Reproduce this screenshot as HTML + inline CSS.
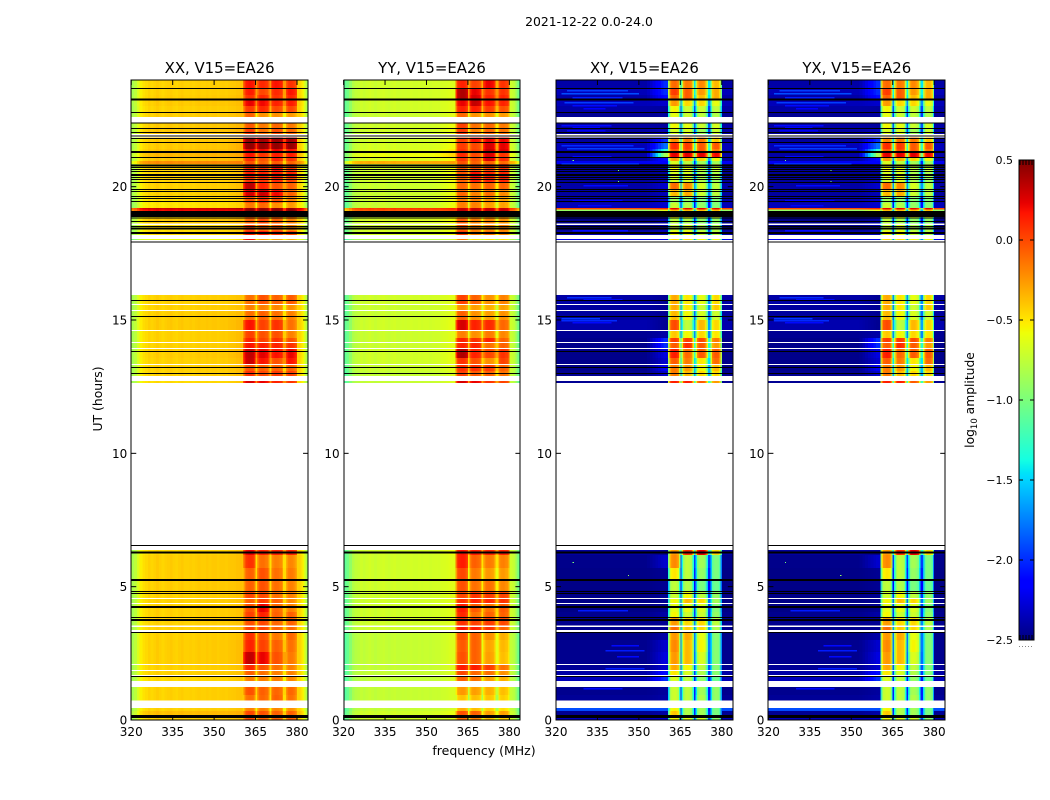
<!DOCTYPE html>
<html lang="en">
<head>
<meta charset="utf-8">
<title>2021-12-22 0.0-24.0</title>
<style>
html,body{margin:0;padding:0;background:#fff;}
svg{display:block;}
text{font-family:"DejaVu Sans","Liberation Sans",sans-serif;fill:#000;}
</style>
</head>
<body>
<svg id="fig" xmlns="http://www.w3.org/2000/svg" width="1050" height="800" viewBox="0 0 1050 800">
<rect x="0" y="0" width="1050" height="800" fill="#fff"/>
<text x="589" y="26" font-size="12.4" text-anchor="middle">2021-12-22 0.0-24.0</text>
<text x="0" y="0" font-size="12.4" text-anchor="middle" transform="translate(102,399) rotate(-90)">UT (hours)</text>
<text x="484" y="755" font-size="12.5" text-anchor="middle">frequency (MHz)</text>
<text x="0" y="0" font-size="12.3" text-anchor="middle" transform="translate(974,400) rotate(-90)">log<tspan font-size="8.5" dy="3">10</tspan><tspan dy="-3"> amplitude</tspan></text>
<g id="panels"></g>
<g id="colorbar"></g>
</svg>
<script>
const panelTitles = ["XX, V15=EA26", "YY, V15=EA26", "XY, V15=EA26", "YX, V15=EA26"];
const freqTicks = [320, 335, 350, 365, 380];
const utTicks = [0, 5, 10, 15, 20];
const colorbarTicks = [0.5, 0.0, -0.5, -1.0, -1.5, -2.0, -2.5];

const blockStart = [360.5, 365.5, 370.5, 376];
const blockEnd = [365, 370, 375, 380];
const rightBlend = [0, .1, .25, .4, .55, .7, .85, 1];

/* amplitude offset per channel, relative to the band level of its row */
const parallelShape = [
 -.4,-.33,-.22,-.1,-.05,-.03,0,-.02,0,.02,0,-.02,0,.01,.02,0,-.01,.01,.02,0,
 0,.01,0,.01,.02,.01,.01,.02,.01,.02,.02,.01,.02,.02,.01,.02,.02,.02,.03,.03,
 .02,
 -.25,-.06,0,.02,.03,.03,.02,0,-.08,
 0,
 -.15,-.02,.02,.03,.03,.02,0,-.02,-.1,
 0,
 -.15,-.02,.02,.03,.03,.02,0,-.02,-.1,
 0,0,
 -.1,0,.02,.03,.02,0,-.02,-.1,
 0,0,-.02,-.05,-.12,-.22,-.32,-.42
];
const crossShape = [
 0,0,0,0,0,0,0,0,0,0,0,0,0,0,0,0,0,0,0,0,
 0,0,0,0,0,0,0,0,0,0,0,0,0,0,0,0,0,0,0,0,
 0,
 -.75,-.2,0,.03,.05,.05,.03,-.05,-.55,
 0,
 -.55,-.1,.03,.05,.05,.03,0,-.1,-.55,
 0,
 -.55,-.1,.03,.05,.05,.03,0,-.1,-.5,
 0,0,
 -.5,-.05,.03,.05,.05,.03,-.1,-.7,
 0,0,0,0,0,0,0,0
];

/* UT extent of each observed time row (hours); anything not listed is flagged (white) */
const rowTop = [24,23.7,23.438,23.25,23.025,22.781,22.406,22.2,21.919,21.836,21.638,21.413,21.3,21.113,20.963,20.85,20.55,20.325,20.138,19.875,19.613,19.388,19.2,19.15,18.9,18.825,18.563,18.338,18.038,
 15.938,15.563,15.338,15,14.588,14.325,14.138,13.913,13.575,13.313,13.088,12.713,
 6.375,6.188,5.7,5.25,4.838,4.538,4.35,4.05,3.825,3.488,3.3,3,2.55,2.063,1.838,1.65,1.238,.938,.45,.338,.15];
const rowBottom = [23.7,23.438,23.25,23.025,22.781,22.613,22.2,21.975,21.874,21.638,21.413,21.3,21.113,20.963,20.85,20.55,20.325,20.138,19.875,19.613,19.388,19.2,19.15,18.9,18.825,18.626,18.338,18.188,17.993,
 15.6,15.375,15,14.625,14.325,14.175,13.95,13.575,13.35,13.088,12.9,12.638,
 6.188,5.7,5.25,4.838,4.575,4.388,4.05,3.825,3.544,3.375,3,2.55,2.1,1.875,1.688,1.463,.938,.731,.338,.15,0];

/* log10 amplitude per row: [background, near-block background, block1, block2, block3, block4] */
const xxLevels = [
[-.44,-.42,.15,.08,.15,.05],[-.44,-.42,.12,-.02,.08,.15],[-.43,-.4,.05,.08,.05,.1],[-.42,-.4,.2,.18,.1,.12],
[-.44,-.42,.02,.08,-.03,-.02],[-.43,-.4,-.1,-.25,-.25,-.28],[-.42,-.38,-.08,-.18,-.12,-.18],[-.41,-.37,.02,-.15,-.05,-.12],
[-.42,-.36,.05,.02,.05,.05],[-.42,-.36,.4,.38,.4,.38],[-.42,-.36,.42,.42,.42,.42],[-.4,-.36,.2,.18,.2,.15],
[-.36,-.32,.15,.05,.12,.12],[-.4,-.36,.08,-.05,.1,.05],[-.22,-.2,-.05,-.1,-.08,-.1],[-.44,-.4,.1,.05,.15,.05],
[-.44,-.4,.12,.1,.12,.1],[-.44,-.4,.05,.05,.08,0],[-.44,-.4,.32,.1,-.05,-.1],[-.44,-.4,.25,.28,.18,-.1],
[-.48,-.44,-.05,.05,-.05,-.2],[-.5,-.46,-.18,-.12,-.25,-.28],[.3,.35,.42,.42,.42,.42],[.2,.2,.45,.45,.45,.45],
[-.5,-.44,-.1,-.1,-.1,-.15],[-.42,-.38,-.12,-.02,-.1,-.2],[-.48,-.44,0,-.1,-.1,-.2],[-.47,-.43,.1,.12,.05,0],[-.6,-.5,.15,-.3,-.3,-.35],
[-.44,-.42,-.15,-.05,-.1,-.08],[-.44,-.42,-.2,-.2,-.22,-.25],[-.43,-.4,-.15,-.1,-.15,-.2],[-.42,-.38,.15,0,.05,-.15],
[-.44,-.4,0,-.05,-.05,-.2],[-.44,-.4,.1,0,.05,-.05],[-.44,-.4,.15,.12,.1,.05],[-.43,-.38,.3,.22,.15,.2],
[-.44,-.4,.28,.15,-.05,.15],[-.44,-.4,-.05,-.1,-.1,-.1],[-.44,-.4,.05,-.02,.02,0],[-.47,-.43,.25,.2,.1,.05],
[-.46,-.42,.2,.1,.1,.1],[-.43,-.41,.05,-.15,-.2,-.22],[-.43,-.41,-.1,-.05,-.15,-.18],[-.43,-.41,-.1,-.05,-.15,-.2],
[-.44,-.42,-.02,-.02,-.15,-.2],[-.44,-.42,-.1,.02,-.1,-.22],[-.44,-.42,-.05,.2,-.12,-.2],[-.44,-.42,0,.1,-.1,-.1],
[-.44,-.42,-.05,-.02,-.12,-.1],[-.44,-.42,0,0,-.1,-.12],[-.44,-.42,.05,-.05,-.18,-.12],[-.43,-.4,.1,0,-.1,-.15],
[-.43,-.4,.3,.2,-.05,-.18],[-.44,-.42,.08,-.05,-.15,-.2],[-.44,-.42,-.1,-.15,-.2,-.2],[-.46,-.43,-.2,-.2,-.2,-.22],
[-.44,-.42,-.05,-.1,-.12,-.12],[-.44,-.42,-.15,-.12,-.1,-.15],[-.44,-.42,-.2,-.2,-.22,-.25],[-.38,-.36,-.02,-.05,-.1,-.1],[-.44,-.4,-.02,-.1,-.1,-.1]
];
const yyLevels = [
[-.7,-.68,.1,0,.2,.05],[-.7,-.66,.35,.2,.05,.05],[-.7,-.66,.35,.25,.1,.1],[-.7,-.66,.2,.3,.15,.1],
[-.7,-.66,.1,.12,.02,-.05],[-.72,-.66,-.12,-.25,-.25,-.28],[-.7,-.62,0,-.15,-.12,-.18],[-.7,-.62,.02,-.2,-.12,-.15],
[-.7,-.62,0,-.1,-.05,-.1],[-.7,-.62,.02,.15,.2,.2],[-.68,-.6,.02,-.02,.25,.22],[-.66,-.55,.05,0,.3,.25],
[-.6,-.48,.08,-.02,.25,.05],[-.66,-.58,.05,-.05,.25,.08],[-.32,-.3,-.05,-.1,-.1,-.12],[-.7,-.6,-.08,-.05,0,.05],
[-.7,-.6,-.05,.15,.1,.1],[-.7,-.6,-.1,.1,.1,.1],[-.72,-.62,-.12,-.15,-.1,-.1],[-.72,-.62,-.12,-.2,-.15,-.22],
[-.72,-.62,-.2,-.2,-.25,-.3],[-.72,-.62,-.2,-.2,-.3,-.3],[.05,.1,.3,.3,.3,.3],[-.05,0,.3,.3,.3,.3],
[-.7,-.6,-.3,-.3,-.3,-.3],[-.68,-.6,-.1,-.2,-.22,-.25],[-.7,-.62,-.08,-.2,-.22,-.2],[-.68,-.6,.02,-.18,-.15,-.2],[-.8,-.7,-.2,-.5,-.5,-.5],
[-.7,-.66,0,-.1,-.25,-.2],[-.72,-.66,-.25,-.3,-.35,-.3],[-.72,-.66,-.1,-.25,-.3,-.25],[-.7,-.64,.25,.1,.08,-.12],
[-.72,-.66,-.2,-.25,-.18,-.22],[-.72,-.66,.1,.05,.1,-.1],[-.72,-.66,.1,.1,-.15,-.1],[-.7,-.64,.35,.1,-.02,.05],
[-.7,-.64,.05,-.05,-.25,0],[-.72,-.66,.05,.05,.02,-.1],[-.74,-.68,0,-.08,-.1,-.15],[-.74,-.68,.25,.2,.05,0],
[-.7,-.62,.15,.12,.1,.1],[-.7,-.66,.12,-.1,-.18,-.2],[-.7,-.66,-.02,-.18,-.28,-.28],[-.7,-.66,-.05,-.15,-.15,-.22],
[-.7,-.66,-.02,.05,.02,0],[-.7,-.66,.05,.1,.08,.05],[-.7,-.66,.12,-.08,-.15,-.08],[-.7,-.66,.08,-.15,-.1,-.1],
[-.7,-.66,.05,0,.02,-.02],[-.7,-.66,.15,.12,.05,-.1],[-.74,-.68,-.05,-.1,-.25,-.35],[-.74,-.68,-.08,-.1,-.32,-.38],
[-.74,-.68,-.05,-.1,-.3,-.4],[-.74,-.68,.12,.12,.02,-.15],[-.74,-.68,-.02,-.12,-.15,-.25],[-.76,-.7,-.1,-.15,-.3,-.35],
[-.74,-.7,-.28,-.3,-.35,-.4],[-.74,-.7,-.42,-.4,-.42,-.45],[-.74,-.7,-.35,-.4,-.45,-.5],[-.7,-.64,-.05,-.1,-.3,-.3],[-.7,-.66,-.15,-.2,-.4,-.45]
];
const xyLevels = [
[-2.4,-2,-.15,-.2,-.25,-.4],[-2.35,-2,0,-.1,-.3,-.35],[-2.4,-2.1,-.12,-.1,-.4,-.35],[-2.35,-2.3,-.3,-.5,-.5,-.65],
[-2.4,-2.42,-.6,-.75,-.75,-.8],[-2.45,-2.42,-.65,-.75,-.8,-.85],[-2.4,-2.42,-.6,-.65,-.75,-.7],[-2.4,-2.35,-.7,-.7,-.9,-.75],
[-2.42,-2.3,-.5,-.5,-.5,-.6],[-2.42,-2,-.25,-.2,-.2,-.45],[-2.35,-1.8,.05,0,-.1,-.1],[-2.35,-1.3,-.1,-.05,-.1,-.2],
[-2.4,-.85,.2,.2,.2,.15],[-2.42,-2.1,-.3,-.4,-.5,-.6],[-2.2,-2.15,-.7,-.8,-.9,-.9],[-2.45,-2.42,-.6,-.65,-.8,-.75],
[-2.45,-2.42,-.7,-.7,-.85,-.85],[-2.42,-2.35,-.7,-.7,-.85,-.9],[-2.4,-2.3,-.15,-.25,-.7,-.8],[-2.42,-2.35,-.4,-.35,-.75,-.8],
[-2.38,-2.3,-.9,-.95,-1,-1],[-2.35,-2.3,-.75,-.85,-.95,-1],[0,.1,.2,.2,.2,.2],[-.9,-.6,-.4,-.4,-.4,-.4],
[-2.45,-2.4,-.6,-.6,-.7,-.7],[-2.47,-2.4,-.8,-.85,-.95,-.95],[-2.42,-2.35,-.75,-.7,-.85,-.85],[-2.38,-2.35,-.6,-.6,-.75,-.8],[-2.2,-2.2,-.5,-.5,-.6,-.6],
[-2.4,-2.45,-.35,-.55,-.65,-.5],[-2.42,-2.45,-.35,-.55,-.75,-.45],[-2.42,-2.45,-.4,-.6,-.7,-.75],[-2.38,-2.45,-.05,-.8,-.4,-.5],
[-2.45,-2.4,-.45,-.6,-.5,-.55],[-2.47,-2,0,0,-.05,-.2],[-2.47,-2,-.1,.05,-.1,-.3],[-2.47,-2.25,.1,-.15,-.1,-.1],
[-2.47,-2.3,-.1,-.2,-.55,-.15],[-2.47,-2.2,-.2,-.3,-.6,-.4],[-2.45,-2.3,-.2,-.4,-.5,-.5],[-2.45,-2.45,.1,.1,-.1,-.3],
[-2.42,-2.45,-.3,.05,.2,-.5],[-2.47,-2.3,-.25,-.8,-.9,-1.05],[-2.48,-2.45,-.55,-.8,-.95,-1.05],[-2.48,-2.45,-.8,-.85,-1.05,-1.1],
[-2.48,-2.45,-.75,-.6,-.8,-.95],[-2.48,-2.45,-.6,-.4,-.5,-.9],[-2.48,-2.45,-.65,-.65,-.7,-1],[-2.46,-2.4,-.6,-.75,-.75,-.95],
[-2.46,-2.45,-.3,-.5,-.5,-.8],[-2.46,-2.45,-.15,-.45,-.5,-.85],[-2.48,-2.4,-.3,-.35,-.65,-1],[-2.46,-2.3,-.25,-.4,-.6,-1],
[-2.46,-2.25,-.3,-.4,-.7,-1],[-2.44,-2.3,-.35,-.6,-.8,-1],[-2.4,-2.1,-.55,-.7,-.85,-1],[-2.35,-2,-.7,-.8,-.95,-1.1],
[-2.46,-2.42,-.75,-.8,-.9,-.95],[-2.44,-2.4,-.75,-.8,-.85,-.95],[-1.9,-1.9,-.6,-.85,-.9,-1.05],[-2.45,-2.4,-.45,-.85,-.9,-1.05],[-2.35,-2.3,-.6,-.65,-.7,-.95]
];
const yxLevels = xyLevels;
const gapDrops = [0.35, 0.4, 1.2, 1.2];

/* faint horizontal streaks in the cross-hand background */
const streakUt = [23.625,23.513,23.363,23.175,23.063,22.95,22.313,22.238,22.125,21.563,21.45,21.15,20.888,20.063,19.5,19.313,18.375,15.863,15.788,15.075,15,14.925,4.125,2.812,2.625,2.4,1.95,1.2];
const streakStart = [324,322,326,323,326,330,322,326,324,322,324,326,322,330,326,328,326,324,330,322,322,326,328,340,338,342,338,330];
const streakEnd = [346,350,344,348,342,338,340,336,338,348,352,340,350,346,344,340,346,340,344,336,342,340,346,350,352,350,352,344];
const streakValue = [-1.95,-1.9,-2.05,-1.95,-2.1,-2.15,-2.1,-2.15,-2.2,-2,-1.95,-2.1,-2,-2.1,-2.15,-2.2,-2.1,-2,-2.1,-1.95,-2,-2.1,-2.05,-2.1,-2.05,-2.1,-2.05,-2.1];

/* isolated bright samples in the cross-hand panels */
const speckUt = [20.625, 20.213, 21, 5.925, 5.438];
const speckFreq = [342.4, 342.4, 326, 326, 346];
const speckValue = [-1, -1, -1, -1, -.9];

/* UT of single flagged lines and of wider flagged stretches (black) */
const flagLineUt = [23.689,23.288,23.25,22.789,22.388,22.189,22.039,21.9,21.799,21.664,21.326,21.281,21.101,20.813,20.775,20.711,20.651,20.561,20.464,20.426,20.351,20.276,20.164,19.901,19.811,19.624,19.549,19.451,18.874,18.825,18.701,18.514,18.274,18.244,17.925,
 15.739,15.139,13.826,13.226,13.001,
 6.551,6.293,6.263,5.276,5.224,4.811,4.751,4.256,4.219,3.836,3.776,3.739,3.274,1.639,.176,.139,.086];
const flagBandTop = [19.088, 18.469];
const flagBandBottom = [18.908, 18.394];

const svgNS = "http://www.w3.org/2000/svg";
const panelLeft = [131.25, 343.6, 556, 768.4];
const panelWidth = 176.8;
const plotTop = 80, plotBottom = 720;
const freqMin = 320, freqMax = 384, utMax = 24;
const cbLeft = 1019, cbRight = 1034, cbTop = 160, cbBottom = 640, ampMin = -2.5, ampMax = 0.5;

function xOf(panel, f) { return panelLeft[panel] + (f - freqMin) / (freqMax - freqMin) * panelWidth; }
function yOf(ut) { return plotBottom - ut / utMax * (plotBottom - plotTop); }
function ampY(v) { return cbBottom - (v - ampMin) / (ampMax - ampMin) * (cbBottom - cbTop); }

function ramp(t, pts) {
  for (let i = 1; i < pts.length; i++) {
    if (t <= pts[i][0]) {
      const a = pts[i - 1], b = pts[i];
      return a[1] + (b[1] - a[1]) * (t - a[0]) / (b[0] - a[0]);
    }
  }
  return pts[pts.length - 1][1];
}
const jetR = [[0,0],[.35,0],[.66,1],[.89,1],[1,.5]];
const jetG = [[0,0],[.125,0],[.375,1],[.64,1],[.91,0],[1,0]];
const jetB = [[0,.5],[.11,1],[.34,1],[.65,0],[1,0]];
function jet(v) {
  const t = Math.max(0, Math.min(1, (v - ampMin) / (ampMax - ampMin)));
  return "rgb(" + Math.round(255 * ramp(t, jetR)) + "," + Math.round(255 * ramp(t, jetG)) + "," + Math.round(255 * ramp(t, jetB)) + ")";
}

function channelFreqs() {
  const out = [];
  for (let f = 320; f < 360; f += 1) out.push([f, f + 1]);
  for (let f = 360; f < 384; f += .5) out.push([f, f + .5]);
  return out;
}
const channels = channelFreqs();

function levelAt(row, f, gapDrop) {
  if (f < 352 || f >= 380) return row[0];
  if (f < 360) return row[0] + (row[1] - row[0]) * rightBlend[Math.floor(f) - 352];
  if (f < 360.5) return row[1];
  for (let b = 0; b < 4; b++) {
    if (f >= blockStart[b] && f < blockEnd[b]) return row[2 + b];
  }
  return (row[2] + row[3] + row[4] + row[5]) / 4 - gapDrop;
}

function make(tag, attrs, parent) {
  const el = document.createElementNS(svgNS, tag);
  for (const k in attrs) el.setAttribute(k, attrs[k]);
  parent.appendChild(el);
  return el;
}

const panelsRoot = document.getElementById("panels");
const allLevels = [xxLevels, yyLevels, xyLevels, yxLevels];
const allShapes = [parallelShape, parallelShape, crossShape, crossShape];

panelTitles.forEach(function (title, p) {
  const panel = make("g", {}, panelsRoot);
  
  

  const cells = make("g", { "shape-rendering": "crispEdges" }, panel);
  
  

  rowTop.forEach(function (top, r) {
    const row = allLevels[p][r];
    const y0 = yOf(top), y1 = yOf(rowBottom[r]);
    channels.forEach(function (ch, c) {
      const v = levelAt(row, ch[0], gapDrops[p]) + allShapes[p][c];
      const x0 = xOf(p, ch[0]), x1 = xOf(p, ch[1]);
      const cell = make("rect", { x: x0, y: y0, width: x1 - x0, height: y1 - y0, fill: jet(v) }, cells);
      
      
    });
  });

  if (p >= 2) {
    streakUt.forEach(function (ut, i) {
      const x0 = xOf(p, streakStart[i]), x1 = xOf(p, streakEnd[i]);
      const streak = make("rect", { x: x0, y: yOf(ut), width: x1 - x0, height: 1.4, fill: jet(streakValue[i]) }, cells);
      
      
    });
    speckUt.forEach(function (ut, i) {
      const speck = make("rect", { x: xOf(p, speckFreq[i]), y: yOf(ut), width: 1.2, height: 1.2, fill: jet(speckValue[i]) }, cells);
      
      
    });
  }

  const flags = make("g", { "shape-rendering": "crispEdges" }, panel);
  
  
  const xa = xOf(p, freqMin), xb = xOf(p, freqMax);
  flagLineUt.forEach(function (ut) {
    const ln = make("rect", { x: xa, y: yOf(ut) - .5, width: xb - xa, height: 1, fill: "#000" }, flags);
    
    
  });
  flagBandTop.forEach(function (ut, i) {
    const yT = yOf(ut), yB = yOf(flagBandBottom[i]);
    const band = make("rect", { x: xa, y: yT, width: xb - xa, height: yB - yT, fill: "#000" }, flags);
    
    
  });

  const frame = make("rect", { x: Math.round(xa), y: plotTop, width: Math.round(xb) - Math.round(xa), height: plotBottom - plotTop, fill: "none", stroke: "#000", "stroke-width": 1 }, panel);
  
  

  const titleEl = make("text", { x: (xa + xb) / 2, y: 73, "font-size": 14.9, "text-anchor": "middle" }, panel);
  titleEl.textContent = title;
  
  

  freqTicks.forEach(function (f) {
    const x = xOf(p, f);
    const tb = make("line", { x1: x, x2: x, y1: plotBottom, y2: plotBottom - 5, stroke: "#000", "stroke-width": 1 }, panel);
    
    
    const tt = make("line", { x1: x, x2: x, y1: plotTop, y2: plotTop + 5, stroke: "#000", "stroke-width": 1 }, panel);
    
    
    const lab = make("text", { x: x, y: 736, "font-size": 12, "text-anchor": "middle" }, panel);
    lab.textContent = String(f);
    
    
  });

  utTicks.forEach(function (u) {
    const y = yOf(u);
    const tl = make("line", { x1: xa, x2: xa + 5, y1: y, y2: y, stroke: "#000", "stroke-width": 1 }, panel);
    
    
    const tr = make("line", { x1: xb, x2: xb - 5, y1: y, y2: y, stroke: "#000", "stroke-width": 1 }, panel);
    
    
    const lab = make("text", { x: xa - 4, y: y + 4.5, "font-size": 12, "text-anchor": "end" }, panel);
    lab.textContent = String(u);
    
    
  });
});

const cbRoot = document.getElementById("colorbar");
const cbCells = make("g", { "shape-rendering": "crispEdges" }, cbRoot);


for (let y = cbTop; y < cbBottom; y++) {
  const v = ampMin + (cbBottom - y - .5) / (cbBottom - cbTop) * (ampMax - ampMin);
  const c = make("rect", { x: cbLeft, y: y, width: cbRight - cbLeft, height: 1, fill: jet(v) }, cbCells);
  
  
}
const cbFrame = make("rect", { x: cbLeft, y: cbTop, width: cbRight - cbLeft, height: cbBottom - cbTop, fill: "none", stroke: "#000", "stroke-width": 1 }, cbRoot);



colorbarTicks.forEach(function (v) {
  const y = ampY(v);
  const l = make("line", { x1: cbLeft, x2: cbLeft + 4, y1: y, y2: y, stroke: "#000", "stroke-width": 1 }, cbRoot);
  
  
  const r = make("line", { x1: cbRight, x2: cbRight - 4, y1: y, y2: y, stroke: "#000", "stroke-width": 1 }, cbRoot);
  
  
  const lab = make("text", { x: 1013, y: y + 4, "font-size": 11, "text-anchor": "end" }, cbRoot);
  lab.textContent = v.toFixed(1).replace("-", "\u2212");
  
  
});

for (let x = cbLeft + 1; x < cbRight; x += 3) {
  const a = make("line", { x1: x, x2: x, y1: cbTop, y2: cbTop + 5, stroke: "#000", "stroke-width": 1 }, cbRoot);
  
  
  const b = make("line", { x1: x, x2: x, y1: cbBottom, y2: cbBottom - 5, stroke: "#000", "stroke-width": 1 }, cbRoot);
  
  
  const d = make("rect", { x: x - 1, y: 646, width: 1, height: 1, fill: "#888" }, cbRoot);
  
  
}
</script>
</body>
</html>
